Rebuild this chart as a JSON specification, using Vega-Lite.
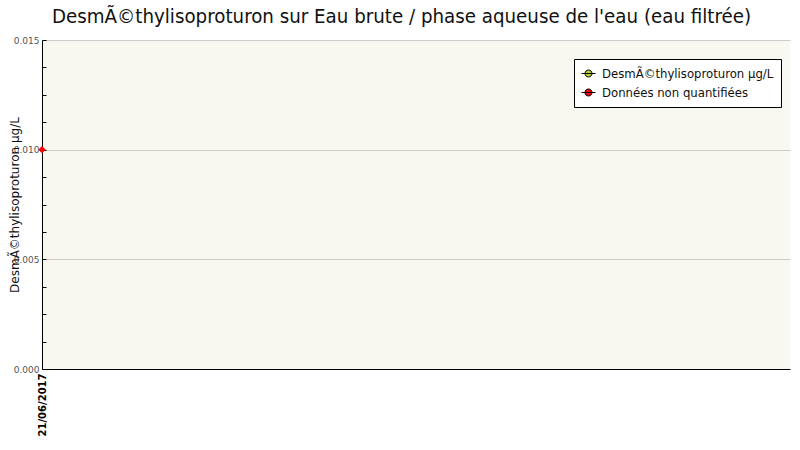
{
  "$schema": "https://vega.github.io/schema/vega-lite/v6.json",
  "autosize": "none",
  "width": 748,
  "height": 329,
  "padding": {"left": 42, "top": 40, "right": 10, "bottom": 81},
  "background": "white",
  "title": {
    "text": "DesmÃ©thylisoproturon sur Eau brute / phase aqueuse de l'eau (eau filtrée)",
    "font": "DejaVu Sans Condensed",
    "fontSize": 20.3,
    "fontWeight": "normal",
    "color": "#111",
    "anchor": "start",
    "frame": "group",
    "offset": 9,
    "dx": 10
  },
  "config": {
    "view": {"fill": "#F8F8F0", "stroke": null},
    "font": "DejaVu Sans",
    "axis": {"domainColor": "black", "tickColor": "black", "gridColor": "#cccccc"}
  },
  "data": {
    "values": [
      {"date": "2017-06-21", "valeur": 0.010, "serie": "Données non quantifiées"}
    ]
  },
  "mark": {"type": "point", "shape": "diamond", "filled": true, "size": 55, "opacity": 1, "clip": false},
  "encoding": {
    "x": {
      "field": "date",
      "type": "temporal",
      "scale": {"domain": ["2017-06-21", "2017-06-22"], "nice": false},
      "axis": {
        "title": null,
        "grid": false,
        "values": ["2017-06-21"],
        "format": "%d/%m/%Y",
        "labelAngle": -90,
        "labelAlign": "right",
        "labelBaseline": "middle",
        "labelFontWeight": "bold",
        "labelFontSize": 10,
        "labelColor": "black",
        "labelBound": false,
        "labelFlush": false,
        "labelOverlap": false,
        "ticks": false,
        "labelPadding": 4
      }
    },
    "y": {
      "field": "valeur",
      "type": "quantitative",
      "scale": {"domain": [0, 0.015], "nice": false},
      "axis": {
        "title": "DesmÃ©thylisoproturon µg/L",
        "titleFontSize": 12,
        "titleFontWeight": "normal",
        "titleColor": "#111",
        "titlePadding": -8,
        "values": [0, 0.00125, 0.0025, 0.00375, 0.005, 0.00625, 0.0075, 0.00875, 0.01, 0.01125, 0.0125, 0.01375, 0.015],
        "labelExpr": "abs(datum.value * 200 - round(datum.value * 200)) < 0.001 ? format(datum.value, '.3f') : ''",
        "gridOpacity": {"condition": {"test": "abs(datum.value * 200 - round(datum.value * 200)) < 0.001", "value": 1}, "value": 0},
        "labelFontSize": 9,
        "labelColor": "#555",
        "labelBaseline": "middle",
        "tickSize": -4,
        "labelPadding": 7
      }
    },
    "color": {
      "field": "serie",
      "type": "nominal",
      "scale": {
        "domain": ["DesmÃ©thylisoproturon µg/L", "Données non quantifiées"],
        "range": ["#b5d33a", "red"]
      },
      "legend": {
        "title": null,
        "orient": "none",
        "legendX": 532,
        "legendY": 19,
        "symbolType": "M-1,0L1,0M-0.5,0A0.5,0.5,0,1,1,0.5,0A0.5,0.5,0,1,1,-0.5,0Z",
        "symbolSize": 196,
        "symbolStrokeColor": "black",
        "symbolStrokeWidth": 1,
        "symbolOpacity": 1,
        "labelFont": "DejaVu Sans Condensed",
        "labelFontSize": 13,
        "labelColor": "#111",
        "labelOffset": 6,
        "fillColor": "white",
        "strokeColor": "black",
        "padding": 7,
        "rowPadding": 4,
        "labelLimit": 300
      }
    }
  }
}
